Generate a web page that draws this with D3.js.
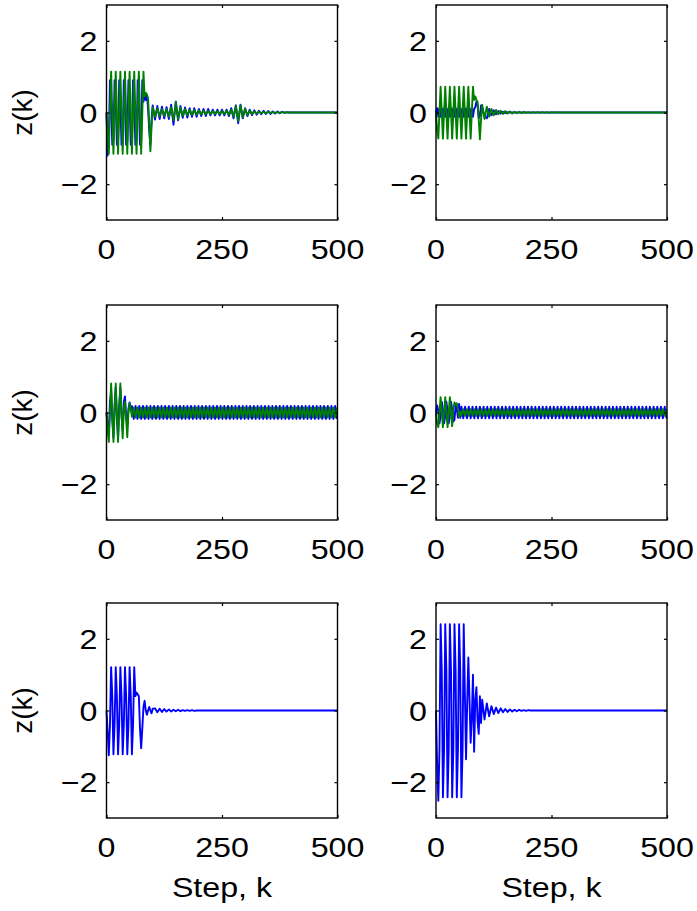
<!DOCTYPE html>
<html><head><meta charset="utf-8">
<script src="https://cdn.jsdelivr.net/npm/d3@7"></script>
<style>html,body{margin:0;padding:0;background:#fff;} svg{display:block;}</style>
</head><body><svg id="chart" width="697" height="911"></svg>
<script>
// ---------- axis settings ----------
const xDomain = [0, 500];
const yDomain = [-3, 3];
const xTicks = [0, 250, 500];
const yTicks = [-2, 0, 2];
const yLabelText = "z(k)";
const xLabelText = "Step, k";
const seriesColors = ["#0000ff", "#008000"]; // blue, green

// ---------- sample steps (k) ----------
const stepsTop = [0,2.5,5,7.5,10,12.5,15,17.5,20,22.5,25,27.5,30,32.5,35,37.5,40,42.5,45,47.5,
 50,52.5,55,57.5,60,62.5,65,67.5,70,72.5,75,77.5,80,82.5,85,87.5,90,92.5,95,97.5,100,
 105,110,115,120,125,130,135,140,145,150,155,160,165,170,175,180,185,190,195,200,
 205,210,215,220,225,230,235,240,245,250,255,260,265,270,275,280,285,290,295,300,
 305,310,315,320,325,330,335,340,345,350,355,360,365,370,375,380,385,390,395,400,500];
const stepsMid = [0,2.5,5,7.5,10,12.5,15,17.5,20,22.5,25,27.5,30,32.5,35,37.5,40,42.5,45,47.5,50,52.5,55,
 59,63,67,71,75,79,83,87,91,95,99,103,107,111,115,119,123,127,131,135,139,143,147,151,155,159,
 163,167,171,175,179,183,187,191,195,199,203,207,211,215,219,223,227,231,235,239,243,247,251,255,
 259,263,267,271,275,279,283,287,291,295,299,303,307,311,315,319,323,327,331,335,339,343,347,351,
 355,359,363,367,371,375,379,383,387,391,395,399,403,407,411,415,419,423,427,431,435,439,443,447,
 451,455,459,463,467,471,475,479,483,487,491,495,499];
const stepsBot = [0,2.5,5,7.5,10,12.5,15,17.5,20,22.5,25,27.5,30,32.5,35,37.5,40,42.5,45,47.5,
 50,52.5,55,57.5,60,62.5,65,67.5,70,72.5,75,77.5,80,82.5,85,87.5,90,92.5,95,97.5,100,
 105,110,115,120,125,130,135,140,145,150,155,160,165,170,175,180,185,190,195,200,205,210,500];

// ---------- panel (1,1) ----------
const zA_blue = [0,-1.2,-0.8,0.9,0.3,-0.9,-0.8,0.9,0.3,-0.9,
 -0.8,0.9,0.3,-0.9,-0.8,0.9,0.3,-0.9,-0.8,0.9,
 0.3,-0.9,-0.8,0.9,0.3,-0.9,-0.8,0.9,0.3,-0.9,
 -0.8,0.9,0.3,0.5,0.35,0.5,0.1,-0.5,-0.9,-0.2,
 0.2,
 -0.2,0.18,-0.18,0.16,-0.16,0.15,-0.18,0.22,-0.34,0.3,
 -0.22,0.18,-0.15,0.14,-0.14,0.12,-0.12,0.12,-0.12,0.1,
 -0.1,0.1,-0.1,0.1,-0.08,0.08,-0.08,0.08,-0.08,0.08,
 -0.08,0.08,-0.1,0.12,-0.16,0.2,-0.3,0.22,-0.16,0.12,
 -0.1,0.08,-0.07,0.06,-0.06,0.05,-0.05,0.05,-0.04,0.04,
 -0.04,0.03,-0.03,0.03,-0.02,0.02,-0.01,0.01,0,0,
 0];
const zA_green = [0,-0.6,-1.15,0,1.14,0,-1.15,0,1.14,0,
 -1.15,0,1.14,0,-1.15,0,1.14,0,-1.15,0,
 1.14,0,-1.15,0,1.14,0,-1.15,0,1.14,0,
 -1.15,0,1.14,0.45,0.55,0.5,0.4,-0.3,-1.08,-0.4,
 0.15,
 -0.12,0.12,-0.1,0.1,-0.1,0.1,-0.12,0.15,-0.22,0.3,
 -0.2,0.14,-0.1,0.1,-0.08,0.08,-0.07,0.07,-0.06,0.06,
 -0.06,0.05,-0.05,0.05,-0.05,0.04,-0.04,0.04,-0.04,0.04,
 -0.04,0.05,-0.06,0.08,-0.12,0.18,-0.24,0.2,-0.14,0.1,
 -0.07,0.05,-0.04,0.03,-0.03,0.03,-0.02,0.02,-0.02,0.02,
 -0.01,0.01,-0.01,0.01,-0.01,0.01,0,0,0,0,
 0];

// ---------- panel (1,2) ----------
const zB_blue = [0,0.12,-0.12,0.12,-0.12,0.12,-0.12,0.12,-0.12,0.12,
 -0.12,0.12,-0.12,0.12,-0.12,0.12,-0.12,0.12,-0.12,0.12,
 -0.12,0.12,-0.12,0.12,-0.12,0.12,-0.12,0.12,-0.12,0.12,
 -0.12,0.12,-0.12,0.1,0.15,0.3,0.2,-0.15,-0.1,0.2,
 0.15,
 -0.12,-0.16,0.1,-0.08,0.06,-0.05,0.04,-0.03,0.02,-0.02,
 0.01,0,0,0,0,0,0,0,0,0,
 0,0,0,0,0,0,0,0,0,0,
 0,0,0,0,0,0,0,0,0,0,
 0,0,0,0,0,0,0,0,0,0,
 0,0,0,0,0,0,0,0,0,0,
 0];
const zB_green = [0,-0.5,-0.73,0,0.72,0,-0.73,0,0.72,0,
 -0.73,0,0.72,0,-0.73,0,0.72,0,-0.73,0,
 0.72,0,-0.73,0,0.72,0,-0.73,0,0.72,0,
 -0.73,0,0.72,0.35,0.45,0.35,0.3,-0.2,-0.75,-0.2,
 0.22,
 -0.18,0.16,-0.12,0.1,-0.08,0.07,-0.05,0.05,-0.04,0.04,
 -0.03,0.03,-0.03,0.02,-0.02,0.02,-0.02,0.02,-0.01,0.01,
 -0.01,0.01,-0.01,0.01,-0.01,0.01,-0.01,0.01,-0.01,0.01,
 0,0,0,0,0,0,0,0,0,0,
 0,0,0,0,0,0,0,0,0,0,
 0,0,0,0,0,0,0,0,0,0,
 0];

// ---------- panel (2,1) ----------
const zC_blue = [0,-0.4,-0.6,0.3,0.6,-0.2,-0.7,0.2,0.7,-0.2,
 -0.7,0.2,0.7,-0.1,-0.5,0.3,0.45,-0.1,-0.4,0.1,
 0.28,0.05,0.18,
 -0.18,0.18,-0.18,0.18,-0.18,0.18,-0.18,0.18,-0.18,0.18,
 -0.18,0.18,-0.18,0.18,-0.18,0.18,-0.18,0.18,-0.18,0.18,
 -0.18,0.18,-0.18,0.18,-0.18,0.18,-0.18,0.18,-0.18,0.18,
 -0.18,0.18,-0.18,0.18,-0.18,0.18,-0.18,0.18,-0.18,0.18,
 -0.18,0.18,-0.18,0.18,-0.18,0.18,-0.18,0.18,-0.18,0.18,
 -0.18,0.18,-0.18,0.18,-0.18,0.18,-0.18,0.18,-0.18,0.18,
 -0.18,0.18,-0.18,0.18,-0.18,0.18,-0.18,0.18,-0.18,0.18,
 -0.18,0.18,-0.18,0.18,-0.18,0.18,-0.18,0.18,-0.18,0.18,
 -0.18,0.18,-0.18,0.18,-0.18,0.18,-0.18,0.18,-0.18,0.18,
 -0.18,0.18,-0.18,0.18,-0.18,0.18,-0.18,0.18,-0.18,0.18,
 -0.18,0.18,-0.18,0.18,-0.18,0.18,-0.18,0.18,-0.18,0.18,
 -0.18];
const zC_green = [0,-0.5,-0.82,0,0.81,0,-0.82,0,0.81,0,
 -0.82,0,0.81,0,-0.72,0.1,0.3,-0.2,-0.69,0,
 0.25,0.1,-0.12,
 0.14,-0.14,0.14,-0.14,0.14,-0.14,0.14,-0.14,0.14,-0.14,
 0.14,-0.14,0.14,-0.14,0.14,-0.14,0.14,-0.14,0.14,-0.14,
 0.14,-0.14,0.14,-0.14,0.14,-0.14,0.14,-0.14,0.14,-0.14,
 0.14,-0.14,0.14,-0.14,0.14,-0.14,0.14,-0.14,0.14,-0.14,
 0.14,-0.14,0.14,-0.14,0.14,-0.14,0.14,-0.14,0.14,-0.14,
 0.14,-0.14,0.14,-0.14,0.14,-0.14,0.14,-0.14,0.14,-0.14,
 0.14,-0.14,0.14,-0.14,0.14,-0.14,0.14,-0.14,0.14,-0.14,
 0.14,-0.14,0.14,-0.14,0.14,-0.14,0.14,-0.14,0.14,-0.14,
 0.14,-0.14,0.14,-0.14,0.14,-0.14,0.14,-0.14,0.14,-0.14,
 0.14,-0.14,0.14,-0.14,0.14,-0.14,0.14,-0.14,0.14,-0.14,
 0.14,-0.14,0.14,-0.14,0.14,-0.14,0.14,-0.14,0.14,-0.14,
 0.14];

// ---------- panel (2,2) ----------
const zD_blue = [0,0.2,0.05,-0.3,-0.1,0.3,0.05,-0.3,-0.1,0.3,
 0.05,-0.3,-0.1,0.3,0.1,-0.25,-0.2,0.2,0.1,-0.15,
 0.24,-0.15,0.16,
 -0.16,0.16,-0.16,0.16,-0.16,0.16,-0.16,0.16,-0.16,0.16,
 -0.16,0.16,-0.16,0.16,-0.16,0.16,-0.16,0.16,-0.16,0.16,
 -0.16,0.16,-0.16,0.16,-0.16,0.16,-0.16,0.16,-0.16,0.16,
 -0.16,0.16,-0.16,0.16,-0.16,0.16,-0.16,0.16,-0.16,0.16,
 -0.16,0.16,-0.16,0.16,-0.16,0.16,-0.16,0.16,-0.16,0.16,
 -0.16,0.16,-0.16,0.16,-0.16,0.16,-0.16,0.16,-0.16,0.16,
 -0.16,0.16,-0.16,0.16,-0.16,0.16,-0.16,0.16,-0.16,0.16,
 -0.16,0.16,-0.16,0.16,-0.16,0.16,-0.16,0.16,-0.16,0.16,
 -0.16,0.16,-0.16,0.16,-0.16,0.16,-0.16,0.16,-0.16,0.16,
 -0.16,0.16,-0.16,0.16,-0.16,0.16,-0.16,0.16,-0.16,0.16,
 -0.16,0.16,-0.16,0.16,-0.16,0.16,-0.16,0.16,-0.16,0.16,
 -0.16];
const zD_green = [0,-0.3,-0.41,0,0.43,0,-0.41,0,0.43,0,
 -0.41,0,0.43,0,-0.38,0.1,0.28,0.22,0.26,0.1,
 -0.13,0.02,-0.09,
 0.09,-0.09,0.09,-0.09,0.09,-0.09,0.09,-0.09,0.09,-0.09,
 0.09,-0.09,0.09,-0.09,0.09,-0.09,0.09,-0.09,0.09,-0.09,
 0.09,-0.09,0.09,-0.09,0.09,-0.09,0.09,-0.09,0.09,-0.09,
 0.09,-0.09,0.09,-0.09,0.09,-0.09,0.09,-0.09,0.09,-0.09,
 0.09,-0.09,0.09,-0.09,0.09,-0.09,0.09,-0.09,0.09,-0.09,
 0.09,-0.09,0.09,-0.09,0.09,-0.09,0.09,-0.09,0.09,-0.09,
 0.09,-0.09,0.09,-0.09,0.09,-0.09,0.09,-0.09,0.09,-0.09,
 0.09,-0.09,0.09,-0.09,0.09,-0.09,0.09,-0.09,0.09,-0.09,
 0.09,-0.09,0.09,-0.09,0.09,-0.09,0.09,-0.09,0.09,-0.09,
 0.09,-0.09,0.09,-0.09,0.09,-0.09,0.09,-0.09,0.09,-0.09,
 0.09,-0.09,0.09,-0.09,0.09,-0.09,0.09,-0.09,0.09,-0.09,
 0.09];

// ---------- panel (3,1) ----------
const zE_blue = [0,-0.6,-1.25,-0.4,1.21,0.4,-1.22,-0.4,1.21,0.4,
 -1.22,-0.4,1.21,0.4,-1.22,-0.4,1.21,0.4,-1.22,-0.4,
 1.21,0.4,-1.22,-0.4,1.21,0.4,0.5,0.45,0.4,-0.5,
 -1.05,-0.5,0.1,0.27,0,-0.12,0,0.1,0,-0.08,
 0.05,
 0.06,-0.05,0.05,-0.04,0.04,-0.03,0.03,-0.03,0.02,-0.02,
 0.02,-0.02,0.01,-0.01,0.01,-0.01,0.01,-0.01,0,0,
 0,0,
 0];

// ---------- panel (3,2) ----------
const zF_blue = [0,-1.5,-2.52,-1.1,2.41,1.1,-2.42,-1.1,2.41,1.1,
 -2.42,-1.1,2.41,1.1,-2.42,-1.1,2.41,1.1,-2.42,-1.1,
 2.41,1.1,-2.42,-1.1,2.41,0.5,-1.36,0.2,1.48,0.3,
 -0.9,-0.2,1.0,-1.15,0.3,0.65,-0.3,-0.65,0.4,-0.35,
 0.3,
 -0.25,0.2,-0.16,0.12,-0.1,0.08,-0.07,0.06,-0.05,0.04,
 -0.04,0.03,-0.03,0.02,-0.02,0.02,-0.01,0.01,-0.01,0.01,
 0,0,
 0];

// ---------- layout ----------
const panels = [
  {steps: stepsTop, series: [zA_blue, zA_green]},
  {steps: stepsTop, series: [zB_blue, zB_green]},
  {steps: stepsMid, series: [zC_blue, zC_green]},
  {steps: stepsMid, series: [zD_blue, zD_green]},
  {steps: stepsBot, series: [zE_blue]},
  {steps: stepsBot, series: [zF_blue]}
];
const colX = [106.5, 436];
const rowY = [5, 305, 603];
const W = 231, H = 215;
const FONT = "'Liberation Sans', Arial, Helvetica, sans-serif";
const FS = 28, SX = 1.15;

const svg = d3.select("#chart");
svg.append("rect").attr("width", 697).attr("height", 911).attr("fill", "#fff");

panels.forEach((p, i) => {
  const col = i % 2, row = Math.floor(i / 2);
  const g = svg.append("g").attr("transform", `translate(${colX[col]},${rowY[row]})`);
  const x = d3.scaleLinear().domain(xDomain).range([0, W]);
  const y = d3.scaleLinear().domain(yDomain).range([H, 0]);

  const line = d3.line().x(d => x(d[0])).y(d => y(d[1]));
  p.series.forEach((s, j) => {
    g.append("path")
      .datum(d3.zip(p.steps, s))
      .attr("d", line)
      .attr("fill", "none")
      .attr("stroke", seriesColors[j])
      .attr("stroke-width", 1.9)
      .attr("stroke-linejoin", "round");
  });

  // ticks on four sides, pointing inward
  const tk = 3;
  const axB = g.append("g").attr("transform", `translate(0,${H})`)
    .call(d3.axisBottom(x).tickValues(xTicks).tickSizeInner(-tk).tickSizeOuter(0).tickFormat(""));
  const axT = g.append("g")
    .call(d3.axisTop(x).tickValues(xTicks).tickSizeInner(-tk).tickSizeOuter(0).tickFormat(""));
  const axL = g.append("g")
    .call(d3.axisLeft(y).tickValues(yTicks).tickSizeInner(-tk).tickSizeOuter(0).tickFormat(""));
  const axR = g.append("g").attr("transform", `translate(${W},0)`)
    .call(d3.axisRight(y).tickValues(yTicks).tickSizeInner(-tk).tickSizeOuter(0).tickFormat(""));
  [axB, axT, axL, axR].forEach(a => {
    a.select(".domain").remove();
    a.selectAll("line").attr("stroke", "#000").attr("stroke-width", 1.2);
  });

  g.append("rect").attr("width", W).attr("height", H)
    .attr("fill", "none").attr("stroke", "#000").attr("stroke-width", 1.4);

  // tick labels
  const fmt = d3.format("d");
  xTicks.forEach(t => {
    g.append("text")
      .attr("transform", `translate(${x(t)},${H + 39}) scale(${SX},1)`)
      .attr("text-anchor", "middle")
      .style("font-family", FONT).style("font-size", FS + "px")
      .text(fmt(t));
  });
  yTicks.forEach(t => {
    g.append("text")
      .attr("transform", `translate(-9,${y(t) + 10}) scale(${SX},1)`)
      .attr("text-anchor", "end")
      .style("font-family", FONT).style("font-size", FS + "px")
      .text(fmt(t));
  });

  if (col === 0) {
    g.append("text")
      .attr("transform", `translate(-75,${H / 2}) rotate(-90)`)
      .attr("text-anchor", "middle")
      .style("font-family", FONT).style("font-size", "28px")
      .text(yLabelText);
  }
  if (row === 2) {
    g.append("text")
      .attr("transform", `translate(${W / 2},${H + 79}) scale(${SX},1)`)
      .attr("text-anchor", "middle")
      .style("font-family", FONT).style("font-size", FS + "px")
      .text(xLabelText);
  }
});
</script>
</body></html>
